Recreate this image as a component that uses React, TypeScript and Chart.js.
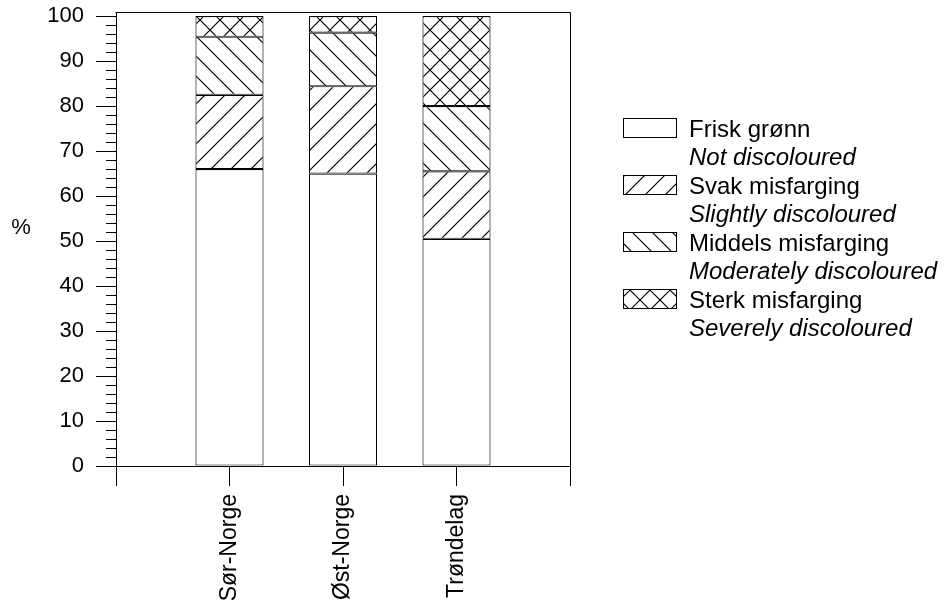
import React, { useEffect, useRef } from 'react';
import { Chart, registerables } from 'chart.js';

Chart.register(...registerables);

const categories = ['Sør-Norge', 'Øst-Norge', 'Trøndelag'];
const seriesNames = ['Frisk grønn', 'Svak misfarging', 'Middels misfarging', 'Sterk misfarging'];
const seriesNamesEn = ['Not discoloured', 'Slightly discoloured', 'Moderately discoloured', 'Severely discoloured'];
const friskGronn = [66, 65, 50.5];
const svakMisfarging = [16.5, 19.4, 15];
const middelsMisfarging = [12.9, 11.9, 14.5];
const sterkMisfarging = [4.6, 3.7, 20];
const hatchKinds = ['none', 'slash', 'back', 'cross'];
const yAxisTitle = '%';
const yMin = 0;
const yMax = 100.9;
const yMajorStep = 10;
const yMinorStep = 2;

const FONT = '"Liberation Sans", Arial, sans-serif';

function makePattern(ctx: CanvasRenderingContext2D, kind: string): CanvasPattern | string {
  if (kind === 'none') return '#ffffff';
  const s = 20;
  const c = document.createElement('canvas');
  c.width = s;
  c.height = s;
  const g = c.getContext('2d')!;
  g.fillStyle = '#ffffff';
  g.fillRect(0, 0, s, s);
  g.strokeStyle = '#000000';
  g.lineWidth = 1.2;
  const slash = () => {
    g.beginPath();
    g.moveTo(-2, s + 2);
    g.lineTo(s + 2, -2);
    g.moveTo(-2, 2);
    g.lineTo(2, -2);
    g.moveTo(s - 2, s + 2);
    g.lineTo(s + 2, s - 2);
    g.stroke();
  };
  const back = () => {
    g.beginPath();
    g.moveTo(-2, -2);
    g.lineTo(s + 2, s + 2);
    g.moveTo(s - 2, -2);
    g.lineTo(s + 2, 2);
    g.moveTo(-2, s - 2);
    g.lineTo(2, s + 2);
    g.stroke();
  };
  if (kind === 'slash' || kind === 'cross') slash();
  if (kind === 'back' || kind === 'cross') back();
  return ctx.createPattern(c, 'repeat')!;
}

const framePlugin = {
  id: 'frame',
  afterDraw(chart: any) {
    const { ctx, chartArea } = chart;
    ctx.save();
    ctx.strokeStyle = '#000';
    ctx.lineWidth = 1;
    ctx.beginPath();
    ctx.moveTo(Math.round(chartArea.left) - 0.5, Math.round(chartArea.top) + 0.5);
    ctx.lineTo(Math.round(chartArea.right) + 0.5, Math.round(chartArea.top) + 0.5);
    ctx.lineTo(Math.round(chartArea.right) + 0.5, Math.round(chartArea.bottom));
    ctx.stroke();
    // y-axis title, horizontal
    ctx.fillStyle = '#000';
    ctx.font = `22px ${FONT}`;
    ctx.textAlign = 'center';
    ctx.textBaseline = 'middle';
    ctx.fillText(yAxisTitle, 21, chartArea.top + (chartArea.bottom - chartArea.top) * 0.475);
    ctx.restore();
  },
};

const legendPlugin = {
  id: 'customLegend',
  afterDraw(chart: any) {
    const { ctx, chartArea } = chart;
    const bx = chartArea.right + 53;
    const base0 = chartArea.top + 125;
    ctx.save();
    chart.data.datasets.forEach((ds: any, i: number) => {
      const base = base0 + i * 57;
      const top = base - 19;
      ctx.fillStyle = ds.backgroundColor;
      ctx.fillRect(bx, top, 54, 20);
      ctx.strokeStyle = '#000';
      ctx.lineWidth = 1;
      ctx.strokeRect(bx + 0.5, top + 0.5, 53, 19);
      ctx.fillStyle = '#000';
      ctx.textAlign = 'left';
      ctx.textBaseline = 'alphabetic';
      ctx.font = `24px ${FONT}`;
      ctx.fillText(seriesNames[i], bx + 66, base);
      ctx.font = `italic 24px ${FONT}`;
      ctx.fillText(seriesNamesEn[i], bx + 66, base + 28);
    });
    ctx.restore();
  },
};

export default function App() {
  const ref = useRef<HTMLCanvasElement | null>(null);

  useEffect(() => {
    const canvas = ref.current!;
    const ctx = canvas.getContext('2d')!;
    const labels = ['', ...categories, ''];
    const pad = (a: number[]) => [null, ...a, null];
    const seriesData = [friskGronn, svakMisfarging, middelsMisfarging, sterkMisfarging];
    const isMinor = (c: any) => {
      const v = c && c.tick ? c.tick.value : 0;
      return Math.abs(v % yMajorStep) > 1e-6;
    };
    const chart = new Chart(ctx, {
      type: 'bar',
      data: {
        labels,
        datasets: seriesNames.map((name, i) => ({
          label: name,
          data: pad(seriesData[i]),
          backgroundColor: makePattern(ctx, hatchKinds[i]) as any,
          borderColor: '#000',
          borderWidth: 1.1,
          borderSkipped: false,
          categoryPercentage: 1,
          barPercentage: 0.6,
        })),
      },
      options: {
        animation: false,
        responsive: false,
        layout: { padding: { left: 0, top: 12, right: 376, bottom: 0 } },
        plugins: {
          legend: { display: false },
          tooltip: { enabled: false },
        },
        scales: {
          x: {
            type: 'category',
            stacked: true,
            offset: false,
            grid: {
              display: true,
              offset: false,
              drawOnChartArea: false,
              drawTicks: true,
              tickLength: 20,
              tickColor: '#000',
              color: '#000',
            },
            border: { display: true, color: '#000', width: 1 },
            ticks: {
              autoSkip: false,
              maxRotation: 90,
              minRotation: 90,
              padding: 8,
              color: '#000',
              font: { family: FONT, size: 23 },
            },
            afterFit: (s: any) => {
              s.height = 142;
              s.paddingLeft = 0;
              s.paddingRight = 0;
            },
          } as any,
          y: {
            stacked: true,
            min: yMin,
            max: yMax,
            grid: {
              display: true,
              drawOnChartArea: false,
              drawTicks: true,
              tickLength: 20,
              tickColor: '#000',
              color: '#000',
              tickBorderDash: (c: any) => (isMinor(c) ? [10, 10] : []),
              tickBorderDashOffset: (c: any) => (isMinor(c) ? 10 : 0),
            },
            border: { display: true, color: '#000', width: 1 },
            ticks: {
              stepSize: yMinorStep,
              includeBounds: false,
              autoSkip: false,
              padding: 12,
              color: '#000',
              font: { family: FONT, size: 22 },
              callback: (v: any) => (Math.abs(Number(v) % yMajorStep) < 1e-6 ? String(v) : ''),
            },
            afterFit: (s: any) => {
              s.width = 116;
              s.paddingTop = 0;
              s.paddingBottom = 0;
            },
          } as any,
        },
      },
      plugins: [framePlugin, legendPlugin],
    });
    return () => chart.destroy();
  }, []);

  return (
    <canvas
      ref={ref}
      width={946}
      height={608}
      style={{ position: 'fixed', left: 0, top: 0, width: 946, height: 608 }}
    />
  );
}
